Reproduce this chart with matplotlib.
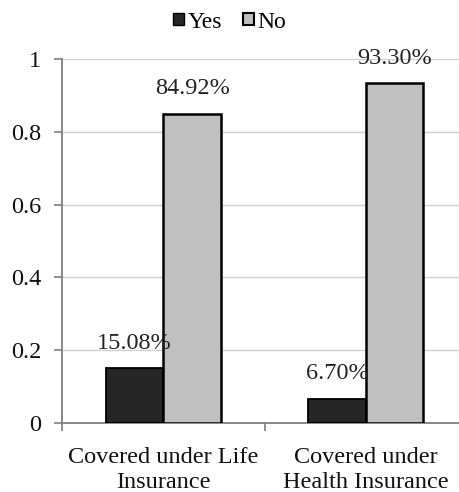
import matplotlib
matplotlib.use("Agg")
import matplotlib.pyplot as plt
from matplotlib.patches import Patch
import numpy as np

categories = ["Covered under Life\nInsurance", "Covered under\nHealth Insurance"]
series_names = ["Yes", "No"]
yes_vals = [0.1508, 0.0670]
no_vals = [0.8492, 0.9330]
yes_labels = ["15.08%", "6.70%"]
no_labels = ["84.92%", "93.30%"]
yticks = [0, 0.2, 0.4, 0.6, 0.8, 1.0]
ytick_labels = ["0", "0.2", "0.4", "0.6", "0.8", "1"]

plt.rcParams['font.family'] = ['Liberation Serif', 'DejaVu Serif']

fig = plt.figure(figsize=(4.59, 4.92), dpi=100)
ax = fig.add_axes([62/459, 1-423/492, (467-62)/459, (423-59)/492])

x = np.arange(len(categories))
w = 0.285
yes_color = "#262626"
no_color = "#c0c0c0"
ax.bar(x - w/2, yes_vals, w, color=yes_color, edgecolor="black", linewidth=1.3, zorder=3)
ax.bar(x + w/2, no_vals, w, color=no_color, edgecolor="black", linewidth=1.8, zorder=3)

for xi, v, lab in zip(x - w/2, yes_vals, yes_labels):
    ax.annotate(lab, (xi, v), xytext=(0, 18), textcoords="offset points",
                ha="center", va="center", fontsize=17.5, color="#222222", zorder=4)
for xi, v, lab in zip(x + w/2, no_vals, no_labels):
    ax.annotate(lab, (xi, v), xytext=(0, 18), textcoords="offset points",
                ha="center", va="center", fontsize=17.5, color="#222222", zorder=4)

ax.set_xlim(-0.5, 1.5)
ax.set_ylim(0, 1)
ax.set_yticks(yticks)
ax.set_yticklabels(ytick_labels, fontsize=17.5, color="#111111")
ax.set_xticks(x)
ax.set_xticklabels(categories, fontsize=17.5, color="#111111", linespacing=1.3)
ax.set_xticks([-0.5, 0.5, 1.5], minor=True)
ax.tick_params(axis="x", which="major", length=0, pad=17)
ax.tick_params(axis="x", which="minor", length=6, color="#808080", width=1.2, direction="out")
ax.tick_params(axis="y", length=6, color="#808080", width=1.2, pad=9)

ax.grid(axis="y", color="#d0d0d0", linewidth=1.0, zorder=0)
ax.set_axisbelow(True)
for s in ["top", "right"]:
    ax.spines[s].set_visible(False)
for s in ["left", "bottom"]:
    ax.spines[s].set_color("#808080")
    ax.spines[s].set_linewidth(1.3)

handles = [Patch(facecolor=yes_color, edgecolor="black", linewidth=1.0),
           Patch(facecolor=no_color, edgecolor="black", linewidth=1.5)]
fig.legend(handles, series_names, loc="center", bbox_to_anchor=(0.5, 1-22/492),
           ncol=2, frameon=False, fontsize=17, handlelength=0.45, handleheight=0.45,
           handletextpad=0.15, columnspacing=0.9)

fig.savefig("out.png", dpi=100)
